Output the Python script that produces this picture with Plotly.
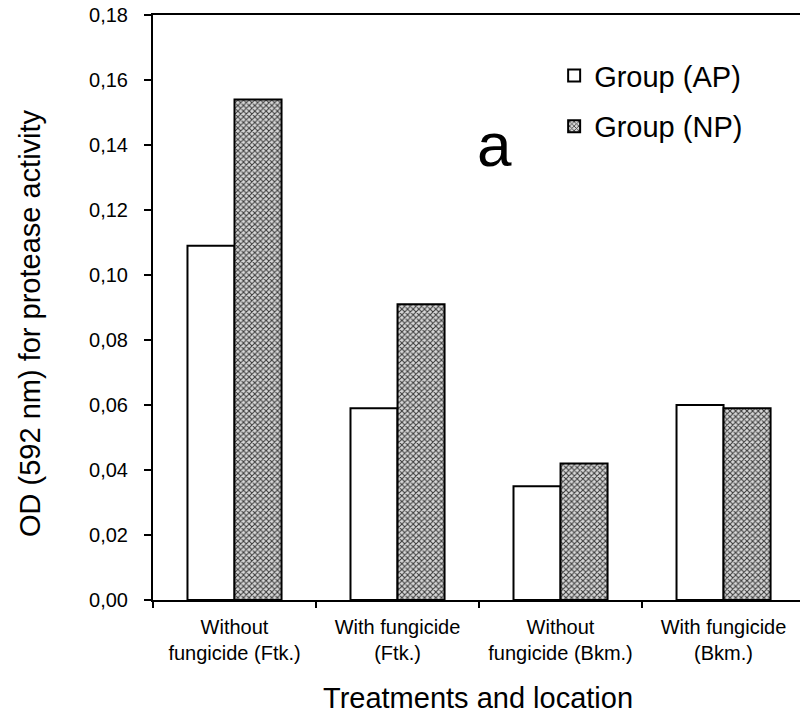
import plotly.graph_objects as go

# Treatment / location categories (two-line tick labels)
categories = [
    "Without<br>fungicide (Ftk.)",
    "With fungicide<br>(Ftk.)",
    "Without<br>fungicide (Bkm.)",
    "With fungicide<br>(Bkm.)",
]

# Optical density readings for protease activity
group_ap = [0.109, 0.059, 0.035, 0.060]
group_np = [0.154, 0.091, 0.042, 0.059]

series_names = ["Group (AP)", "Group (NP)"]
x_title = "Treatments and location"
y_title = "OD (592 nm) for protease activity"
panel_label = "a"

FONT = "Liberation Sans, Arial, sans-serif"

fig = go.Figure()
fig.add_trace(go.Bar(
    x=categories, y=group_ap, name=series_names[0],
    marker=dict(color="white", line=dict(color="black", width=2)),
    legendgroup="ap",
))
fig.add_trace(go.Bar(
    x=categories, y=group_np, name=series_names[1],
    marker=dict(
        color="#c8c8c8",
        line=dict(color="black", width=2),
        pattern=dict(shape="x", size=4, solidity=0.45,
                     fgcolor="#3a3a3a", bgcolor="#d8d8d8", fillmode="replace"),
    ),
    legendgroup="np",
))

fig.update_layout(
    width=800, height=716,
    margin=dict(l=153, r=0, t=15, b=116),
    paper_bgcolor="white", plot_bgcolor="white",
    font=dict(family=FONT, color="black"),
    separators=",.",
    barmode="group", bargap=0.423, bargroupgap=0,
    showlegend=True,
    legend=dict(
        x=0.62, y=0.94, xanchor="left", yanchor="top",
        font=dict(size=29, family=FONT),
        bgcolor="rgba(0,0,0,0)", tracegroupgap=10,
        itemwidth=30,
    ),
    annotations=[
        dict(text=panel_label, x=0.528, y=0.778, xref="paper", yref="paper",
             showarrow=False, font=dict(size=62, family=FONT),
             xanchor="center", yanchor="middle"),
        # axis titles
        dict(text=x_title, x=0.502, y=-0.1675, xref="paper", yref="paper",
             showarrow=False, font=dict(size=29, family=FONT),
             xanchor="center", yanchor="middle"),
        dict(text=y_title, x=0, xshift=-123, y=0.4735, xref="paper", yref="paper",
             showarrow=False, font=dict(size=29, family=FONT), textangle=-90,
             xanchor="center", yanchor="middle"),
    ],
)

fig.update_xaxes(
    type="category",
    range=[-0.5, 3.469],
    showline=True, linecolor="black", linewidth=2,
    mirror=True,
    ticks="outside", ticklen=6, tickwidth=1.5, tickcolor="black",
    tickson="boundaries",
    tickfont=dict(size=20, family=FONT),
    ticklabelstandoff=8,
    showgrid=False, zeroline=False,
    automargin=False,
)

fig.update_yaxes(
    range=[0, 0.18], dtick=0.02, tick0=0, tickformat=".2f",
    showline=True, linecolor="black", linewidth=2,
    ticks="outside", ticklen=7, tickwidth=1.5, tickcolor="black",
    tickfont=dict(size=20, family=FONT),
    ticklabelstandoff=12,
    showgrid=False, zeroline=False,
    automargin=False,
)

fig.write_html("out.html")
